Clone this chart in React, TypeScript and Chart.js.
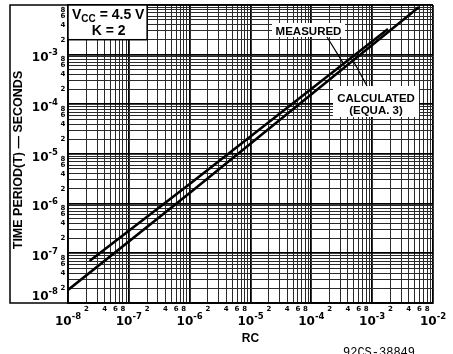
import React, { useEffect, useRef } from 'react';
import { Chart, registerables } from 'chart.js';

Chart.register(...registerables);

// ---- data ----
const rcMeasured = [2.26e-8, 1.0e-6, 1.82e-3];
const tMeasured = [7.0e-8, 2.49e-6, 3.29e-3];
const rcCalculated = [1.0e-8, 1.0e-6, 5.89e-3];
const tCalculated = [1.83e-8, 1.64e-6, 9.1e-3];

// arrow tips (RC, T) where the labels point
const measuredTip = [3.3e-4, 6.9e-4];
const calculatedTip = [4.8e-4, 7.8e-4];

// ---- axes / tick labels ----
const xDecadeExps = [-8, -7, -6, -5, -4, -3, -2];
const yDecadeExps = [-8, -7, -6, -5, -4, -3, -2];
const xLabelExps = [-8, -7, -6, -5, -4, -3, -2];
const yLabelExps = [-8, -7, -6, -5, -4, -3];
const gridDigits = [1, 2, 3, 4, 5, 6, 7, 8, 9];
const minorLabelDigits = [2, 4, 6, 8];

const xTitle = 'RC';
const yTitle = 'TIME PERIOD(T) \u2014 SECONDS';
const vccMain = 'V';
const vccSub = 'CC';
const vccRest = ' = 4.5 V';
const kLabel = 'K = 2';
const measuredLabel = 'MEASURED';
const calculatedLines = ['CALCULATED', '(EQUA. 3)'];
const figureCode = '92CS-38849';

const p10 = (e: number) => Number(Math.pow(10, e).toPrecision(6));
const val = (d: number, e: number) => Number((d * Math.pow(10, e)).toPrecision(6));

function gridTicks(exps: number[]) {
  const ticks: { value: number; major: boolean }[] = [];
  for (let i = 0; i < exps.length - 1; i++) {
    for (const d of gridDigits) ticks.push({ value: val(d, exps[i]), major: d === 1 });
  }
  ticks.push({ value: p10(exps[exps.length - 1]), major: true });
  return ticks;
}

const NUM_FONT = '"DejaVu Sans"';
const TXT_FONT = '"Liberation Sans", Arial, sans-serif';

function drawPow(ctx: CanvasRenderingContext2D, exp: number, x: number, baseline: number, align: 'center' | 'right') {
  const baseFont = `bold 12px ${NUM_FONT}`;
  const supFont = `bold 8.5px ${NUM_FONT}`;
  const base = '10';
  const sup = '-' + Math.abs(exp);
  ctx.font = baseFont;
  const wb = ctx.measureText(base).width;
  ctx.font = supFont;
  const ws = ctx.measureText(sup).width;
  const total = wb + ws;
  const x0 = align === 'center' ? x - total / 2 : x - total;
  ctx.textAlign = 'left';
  ctx.textBaseline = 'alphabetic';
  ctx.font = baseFont;
  ctx.fillText(base, x0, baseline);
  ctx.font = supFont;
  ctx.fillText(sup, x0 + wb, baseline - 5.7);
}

const overlay = {
  id: 'overlay',
  afterDraw(chart: any) {
    const ctx: CanvasRenderingContext2D = chart.ctx;
    const xs = chart.scales.x;
    const ys = chart.scales.y;
    const { left, right, top, bottom } = chart.chartArea;
    ctx.save();
    ctx.fillStyle = '#000';
    ctx.strokeStyle = '#000';

    // outer frame enclosing the y axis labels
    ctx.lineWidth = 1.5;
    ctx.beginPath();
    ctx.moveTo(right, top);
    ctx.lineTo(10, top);
    ctx.lineTo(10, bottom);
    ctx.lineTo(right, bottom);
    ctx.stroke();

    // x tick labels
    ctx.font = `bold 7px ${NUM_FONT}`;
    ctx.textAlign = 'center';
    ctx.textBaseline = 'middle';
    for (let i = 0; i < xDecadeExps.length - 1; i++) {
      for (const d of minorLabelDigits) {
        ctx.fillText(String(d), xs.getPixelForValue(val(d, xDecadeExps[i])), bottom + 6);
      }
    }
    for (const e of xLabelExps) {
      drawPow(ctx, e, xs.getPixelForValue(p10(e)), bottom + 22, 'center');
    }

    // y tick labels
    ctx.font = `bold 7px ${NUM_FONT}`;
    ctx.textAlign = 'center';
    ctx.textBaseline = 'middle';
    for (let i = 0; i < yDecadeExps.length - 1; i++) {
      for (const d of minorLabelDigits) {
        ctx.fillText(String(d), left - 5, ys.getPixelForValue(val(d, yDecadeExps[i])));
      }
    }
    for (const e of yLabelExps) {
      const py = ys.getPixelForValue(p10(e));
      const b = e === yLabelExps[0] ? py - 3 : py + 6.5;
      drawPow(ctx, e, left - 10, b, 'right');
    }

    // axis titles
    ctx.font = `bold 12px ${TXT_FONT}`;
    ctx.textAlign = 'center';
    ctx.textBaseline = 'middle';
    ctx.fillText(xTitle, (left + right) / 2, bottom + 36);
    ctx.save();
    ctx.translate(19, (top + bottom) / 2 + 6);
    ctx.rotate(-Math.PI / 2);
    ctx.font = `bold 12.5px ${TXT_FONT}`;
    ctx.fillText(yTitle, 0, 0);
    ctx.restore();

    // figure code
    ctx.font = `12px "Liberation Mono", monospace`;
    ctx.textAlign = 'center';
    ctx.textBaseline = 'alphabetic';
    ctx.fillText(figureCode, 379, bottom + 53);

    // Vcc / K box
    const boxR = xs.getPixelForValue(2e-7);
    const boxB = ys.getPixelForValue(2e-3);
    ctx.fillStyle = '#fff';
    ctx.fillRect(left, top, boxR - left, boxB - top);
    ctx.lineWidth = 1.5;
    ctx.strokeRect(left, top, boxR - left, boxB - top);
    ctx.fillStyle = '#000';
    ctx.textAlign = 'left';
    ctx.textBaseline = 'alphabetic';
    let tx = left + 4;
    ctx.font = `bold 14px ${TXT_FONT}`;
    ctx.fillText(vccMain, tx, top + 13.5);
    tx += ctx.measureText(vccMain).width;
    ctx.font = `bold 10px ${TXT_FONT}`;
    ctx.fillText(vccSub, tx, top + 16.5);
    tx += ctx.measureText(vccSub).width;
    ctx.font = `bold 14px ${TXT_FONT}`;
    ctx.fillText(vccRest, tx, top + 13.5);
    ctx.textAlign = 'center';
    ctx.fillText(kLabel, (left + boxR) / 2 + 1, top + 30);

    // MEASURED label
    ctx.fillStyle = '#fff';
    ctx.fillRect(272, 23, 73, 14);
    ctx.fillStyle = '#000';
    ctx.font = `bold 11.5px ${TXT_FONT}`;
    ctx.textAlign = 'center';
    ctx.fillText(measuredLabel, 308.5, 34.5);
    ctx.lineWidth = 1.2;
    ctx.beginPath();
    ctx.moveTo(327, 37);
    ctx.lineTo(xs.getPixelForValue(measuredTip[0]), ys.getPixelForValue(measuredTip[1]));
    ctx.stroke();

    // CALCULATED label
    ctx.fillStyle = '#fff';
    ctx.fillRect(333, 86, 86, 31);
    ctx.fillStyle = '#000';
    ctx.fillText(calculatedLines[0], 376, 101.5);
    ctx.fillText(calculatedLines[1], 376, 113.5);
    ctx.beginPath();
    ctx.moveTo(367, 86);
    ctx.lineTo(xs.getPixelForValue(calculatedTip[0]), ys.getPixelForValue(calculatedTip[1]));
    ctx.stroke();

    ctx.restore();
  },
};

const gridOpts = {
  drawTicks: false,
  color: (c: any) => (c.tick && c.tick.major ? '#000' : '#2a2a2a'),
  lineWidth: (c: any) => (c.tick && c.tick.major ? 1.8 : 1),
};

export default function App() {
  const ref = useRef<HTMLCanvasElement>(null);
  useEffect(() => {
    const canvas = ref.current;
    if (!canvas) return;
    const chart = new Chart(canvas, {
      type: 'scatter',
      data: {
        datasets: [
          {
            label: 'Measured',
            data: rcMeasured.map((x, i) => ({ x, y: tMeasured[i] })),
            showLine: true,
            borderColor: '#000',
            backgroundColor: '#000',
            borderWidth: 2.6,
            pointRadius: 0,
            fill: false,
          },
          {
            label: 'Calculated (Equa. 3)',
            data: rcCalculated.map((x, i) => ({ x, y: tCalculated[i] })),
            showLine: true,
            borderColor: '#000',
            backgroundColor: '#000',
            borderWidth: 2.6,
            pointRadius: 0,
            fill: false,
          },
        ],
      },
      options: {
        animation: false,
        responsive: false,
        layout: { padding: { left: 68, right: 20, top: 5, bottom: 51 } },
        plugins: { legend: { display: false }, tooltip: { enabled: false } },
        scales: {
          x: {
            type: 'logarithmic',
            min: p10(xDecadeExps[0]),
            max: p10(xDecadeExps[xDecadeExps.length - 1]),
            afterBuildTicks: (a: any) => {
              a.ticks = gridTicks(xDecadeExps);
            },
            ticks: { display: false },
            grid: gridOpts as any,
            border: { display: true, color: '#000', width: 1.8 },
          },
          y: {
            type: 'logarithmic',
            min: p10(yDecadeExps[0]),
            max: p10(yDecadeExps[yDecadeExps.length - 1]),
            afterBuildTicks: (a: any) => {
              a.ticks = gridTicks(yDecadeExps);
            },
            ticks: { display: false },
            grid: gridOpts as any,
            border: { display: true, color: '#000', width: 1.8 },
          },
        },
      },
      plugins: [overlay],
    });
    return () => chart.destroy();
  }, []);
  return (
    <div style={{ position: 'absolute', left: 0, top: 0, width: 453, height: 354, background: '#fff' }}>
      <canvas ref={ref} width={453} height={354} style={{ display: 'block', width: 453, height: 354 }} />
    </div>
  );
}
